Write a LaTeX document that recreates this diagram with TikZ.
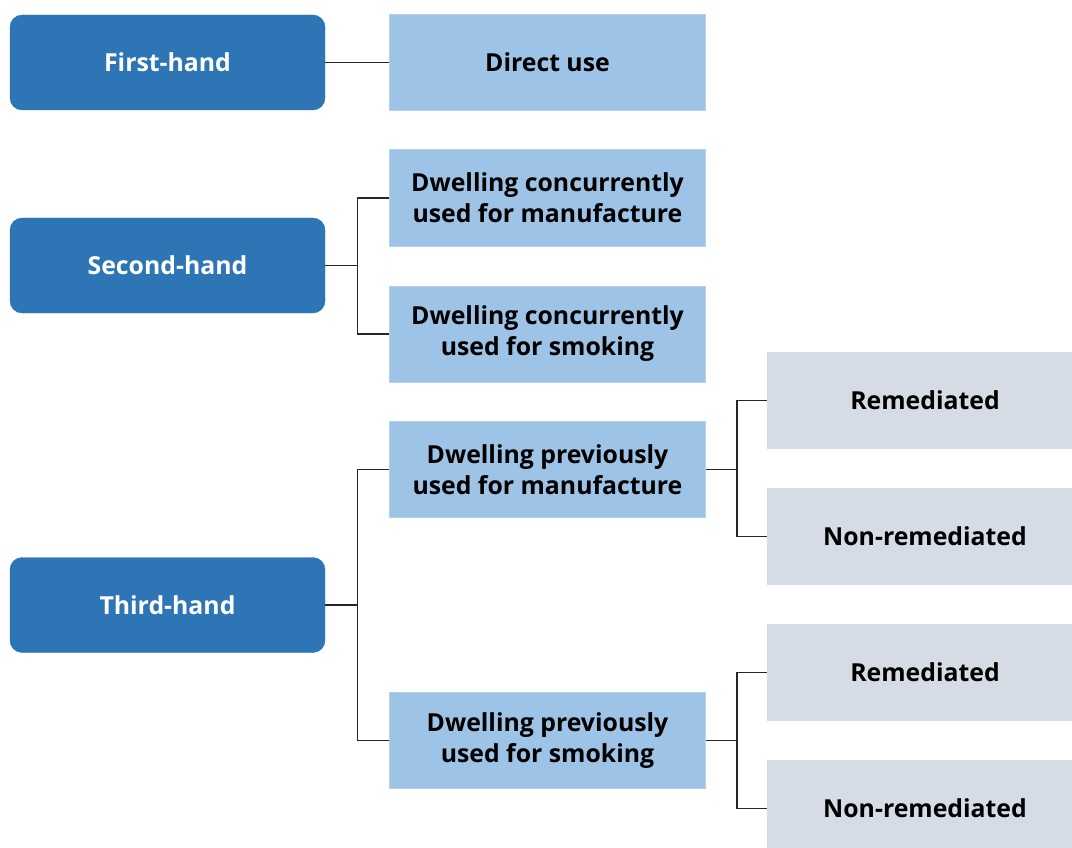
\documentclass[tikz,border=0pt]{standalone}
\usepackage{fontspec}
\setmainfont{Open Sans}
\definecolor{darkblue}{HTML}{2E75B6}
\definecolor{midblue}{HTML}{9DC3E6}
\definecolor{midborder}{HTML}{B4D2EC}
\definecolor{lightgrey}{HTML}{D6DCE5}
\tikzset{
  base/.style={font=\bfseries\fontsize{24.8}{31}\selectfont, align=center, inner sep=0pt},
  lvlone/.style={base, rectangle, rounded corners=12pt, fill=darkblue, draw=darkblue, text=white, minimum width=315pt, minimum height=95pt},
  lvltwo/.style={base, rectangle, fill=midblue, draw=midborder, line width=1pt, text=black, minimum width=316pt, minimum height=96pt},
  lvlthree/.style={base, rectangle, fill=lightgrey, draw=none, text=black, minimum width=316pt, minimum height=97pt},
  conn/.style={draw=black!85, line width=1.1pt}
}
\begin{document}
\begin{tikzpicture}[x=1pt,y=-1pt]
\useasboundingbox (0,0) rectangle (1072,848);
\node[lvlone] (fh) at (167.5,62.5) {First-hand};
\node[lvlone] (sh) at (167.5,265.5) {Second-hand};
\node[lvlone] (th) at (167.5,605) {Third-hand};
\node[lvltwo] (du) at (547.5,62.5) {Direct use};
\node[lvltwo] (cm) at (547.5,198) {Dwelling concurrently\\used for manufacture};
\node[lvltwo] (cs) at (547.5,334) {Dwelling concurrently\\used for smoking};
\node[lvltwo] (pm) at (547.5,469.5) {Dwelling previously\\used for manufacture};
\node[lvltwo] (ps) at (547.5,740.5) {Dwelling previously\\used for smoking};
\node[lvlthree] (r1) at (925,400.5) {Remediated};
\node[lvlthree] (n1) at (925,536.5) {Non-remediated};
\node[lvlthree] (r2) at (925,672.5) {Remediated};
\node[lvlthree] (n2) at (925,808.5) {Non-remediated};
\draw[conn] (fh.east) -- (du.west);
\coordinate (sb) at ([xshift=32pt]sh.east);
\draw[conn] (sh.east) -- (sb);
\draw[conn] (cm.west) -| (sb) |- (cs.west);
\coordinate (tb) at ([xshift=32pt]th.east);
\draw[conn] (th.east) -- (tb);
\draw[conn] (pm.west) -| (tb) |- (ps.west);
\coordinate (pb) at ([xshift=31pt]pm.east);
\draw[conn] (pm.east) -- (pb);
\draw[conn] (r1.west) -| (pb) |- (n1.west);
\coordinate (qb) at ([xshift=31pt]ps.east);
\draw[conn] (ps.east) -- (qb);
\draw[conn] (r2.west) -| (qb) |- (n2.west);
\end{tikzpicture}
\end{document}
